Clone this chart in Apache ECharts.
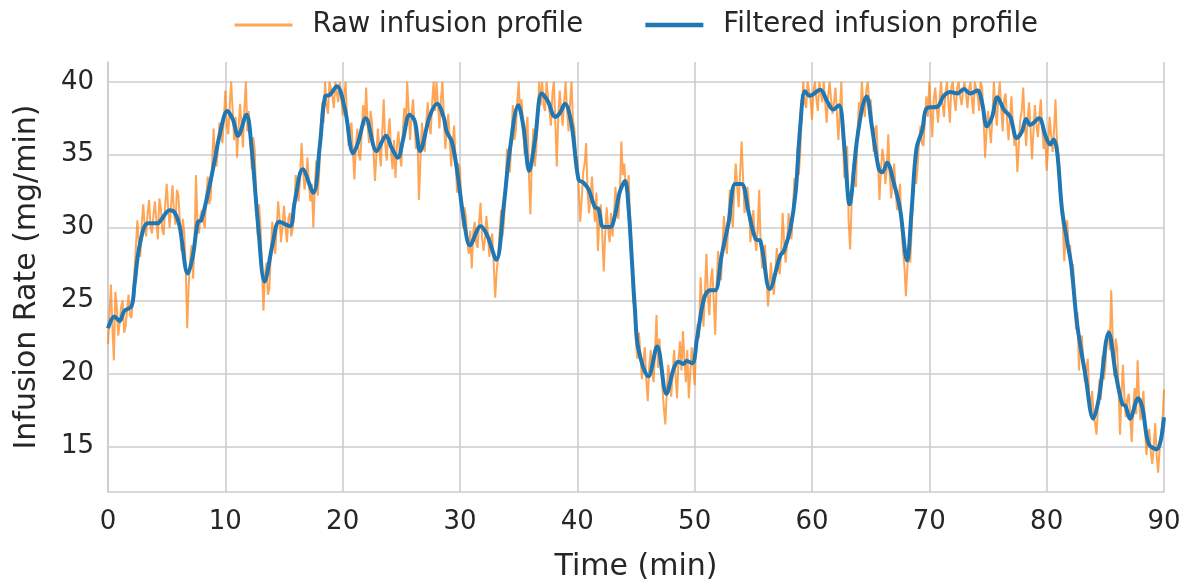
<!DOCTYPE html>
<html>
<head>
<meta charset="utf-8">
<script src="https://cdn.jsdelivr.net/npm/echarts@6/dist/echarts.min.js"></script>
<style>
  html, body { margin: 0; padding: 0; background: #ffffff; }
  #chart { width: 1190px; height: 587px; }
</style>
</head>
<body>
<div id="chart"></div>
<script>
// Raw infusion rate, one sample every RAW_STEP minutes (mg/min, pump ceiling 40)
const RAW_STEP = 0.125;
const rawRate = [
  22.0, 24.0, 26.1, 23.2, 20.9, 25.6, 24.6, 22.6,
  23.5, 24.6, 25.0, 22.8, 23.2, 24.4, 25.4, 24.0,
  23.8, 25.2, 27.0, 28.6, 30.5, 29.0, 28.0, 30.2,
  31.6, 30.2, 29.4, 31.0, 31.9, 30.0, 29.6, 30.9,
  31.8, 30.4, 29.2, 32.0, 31.4, 29.8, 29.5, 31.6,
  33.0, 31.4, 30.0, 31.6, 32.9, 31.0, 30.2, 32.6,
  32.2, 30.4, 28.4, 30.6, 29.6, 27.2, 23.1, 26.0,
  27.8, 28.8, 26.5, 29.0, 33.6, 30.2, 29.6, 30.8,
  31.2, 30.4, 30.0, 32.2, 33.5, 31.6, 32.0, 34.4,
  36.8, 34.6, 34.2, 35.6, 37.2, 36.4, 35.8, 37.4,
  39.4, 37.0, 36.4, 38.4, 40.0, 38.0, 36.0, 37.6,
  34.8, 36.8, 38.5, 37.2, 35.5, 38.2, 40.0, 36.6,
  38.0, 36.0, 34.0, 36.2, 35.4, 32.0, 29.5, 31.6,
  30.0, 27.0, 24.3, 26.8, 27.6, 25.4, 25.8, 28.2,
  30.4, 29.0, 28.2, 30.0, 31.8, 30.6, 29.0, 30.2,
  31.5, 30.0, 29.0, 30.6, 31.0, 29.4, 30.0, 31.4,
  33.6, 32.8, 31.8, 33.6, 35.8, 34.0, 32.6, 33.4,
  34.8, 33.0, 31.8, 33.0, 30.0, 32.8, 34.6, 32.2,
  33.8, 36.4, 38.6, 37.2, 40.0, 38.4, 37.8, 40.0,
  40.0, 39.0, 38.2, 40.0, 40.0, 38.6, 40.0, 39.0,
  37.7, 38.8, 40.0, 37.4, 35.6, 36.8, 37.2, 35.2,
  33.3, 35.6, 36.8, 35.0, 34.6, 36.6, 38.4, 37.0,
  39.6, 37.0, 35.8, 38.0, 37.2, 35.4, 33.2, 35.0,
  36.8, 35.4, 34.2, 36.6, 38.8, 35.8, 34.6, 36.4,
  37.5, 35.2, 34.0, 36.0, 33.4, 35.6, 36.6, 35.0,
  34.2, 36.6, 38.2, 36.8, 40.0, 38.0, 36.0, 37.8,
  38.8, 37.0, 35.4, 36.4, 31.9, 34.6, 37.2, 36.2,
  35.2, 37.2, 38.6, 37.0, 36.4, 38.6, 40.0, 38.0,
  40.0, 38.4, 36.8, 38.8, 40.0, 37.6, 35.4, 36.6,
  37.8, 36.0, 34.2, 35.8, 37.0, 34.6, 32.4, 34.4,
  34.0, 31.6, 30.0, 31.4, 30.8, 29.0, 28.2, 29.8,
  27.2, 29.6, 30.4, 29.0, 28.6, 30.4, 31.7, 29.4,
  28.4, 29.2, 30.8, 29.6, 28.0, 29.2, 29.6, 27.4,
  25.2, 27.0, 28.0, 29.6, 31.2, 29.4, 30.4, 32.6,
  35.4, 34.0, 33.8, 35.8, 38.4, 36.0, 36.6, 38.6,
  40.0, 37.8, 38.8, 37.0, 35.0, 36.6, 37.6, 33.6,
  30.9, 34.8, 36.8, 34.2, 35.4, 37.6, 40.0, 38.4,
  40.0, 38.4, 38.0, 40.0, 40.0, 38.0, 37.0, 39.2,
  40.0, 37.2, 34.2, 37.6, 39.4, 38.0, 37.0, 38.6,
  40.0, 38.0, 36.6, 38.4, 40.0, 37.4, 36.8, 35.0,
  34.8, 32.6, 30.4, 32.0, 33.8, 34.4, 35.8, 32.4,
  31.0, 32.2, 33.5, 31.6, 30.4, 32.4, 28.4, 30.6,
  31.6, 29.6, 27.0, 29.6, 31.4, 30.0, 29.0, 31.0,
  29.4, 31.0, 32.8, 31.2, 30.6, 32.4, 35.9, 33.6,
  34.4, 32.8, 32.2, 33.6, 30.6, 28.0, 25.0, 24.6,
  22.0, 21.0, 22.8, 21.4, 19.6, 20.8, 21.8, 19.6,
  18.1, 20.4, 21.6, 20.0, 19.4, 21.6, 24.0, 20.4,
  22.4, 20.6, 19.0, 17.6, 16.5, 18.8, 20.6, 19.6,
  18.4, 20.0, 21.6, 19.8, 18.3, 21.0, 22.2, 20.2,
  22.9, 21.0, 19.4, 21.6, 18.3, 20.0, 21.8, 20.6,
  19.2, 22.0, 23.4, 22.4, 26.6, 25.0, 23.2, 25.6,
  28.2, 25.4, 24.0, 26.4, 27.2, 25.0, 22.65, 26.2,
  28.4, 27.0, 26.4, 28.8, 30.8, 29.0, 28.2, 30.6,
  32.6, 31.0, 30.0, 32.6, 34.4, 32.8, 31.4, 33.8,
  35.9, 33.4, 31.0, 32.2, 32.8, 31.6, 29.0, 30.2,
  31.2, 29.4, 28.4, 30.0, 32.6, 28.8, 27.2, 28.4,
  28.8, 26.6, 24.6, 26.0, 27.6, 26.2, 25.4, 27.0,
  28.6, 27.4, 26.8, 28.4, 31.0, 29.0, 27.6, 28.8,
  31.0, 30.0, 29.2, 31.2, 33.4, 32.4, 35.5, 33.6,
  35.2, 38.0, 40.0, 38.6, 38.2, 40.0, 40.0, 38.8,
  37.4, 39.4, 40.0, 38.8, 38.0, 40.0, 40.0, 38.6,
  40.0, 38.6, 37.2, 39.0, 40.0, 38.8, 37.8, 38.6,
  39.6, 37.8, 36.0, 38.0, 40.0, 36.4, 33.4, 34.0,
  35.6, 30.4, 28.5, 31.6, 34.4, 33.0, 32.8, 36.4,
  38.6, 37.8, 40.0, 38.4, 37.6, 39.4, 40.0, 38.6,
  38.8, 37.2, 35.2, 36.8, 37.0, 34.6, 31.9, 34.0,
  35.4, 34.6, 33.0, 34.0, 36.4, 33.6, 32.0, 33.2,
  34.4, 32.6, 31.2, 32.0, 33.0, 30.2, 28.4, 27.4,
  25.3, 27.2, 28.6, 27.6, 30.0, 32.4, 34.6, 33.0,
  34.2, 36.0, 37.0, 35.8, 35.6, 37.4, 39.0, 37.6,
  40.0, 38.0, 36.2, 38.8, 39.6, 38.2, 37.2, 38.8,
  40.0, 38.4, 37.6, 39.2, 40.0, 38.6, 37.2, 39.6,
  40.0, 38.8, 38.0, 39.6, 40.0, 39.0, 38.4, 39.4,
  40.0, 39.2, 38.2, 39.4, 40.0, 38.8, 37.8, 40.0,
  40.0, 39.0, 38.0, 40.0, 39.6, 37.6, 34.8, 36.6,
  38.0, 36.8, 35.8, 37.6, 40.0, 38.2, 37.0, 38.8,
  40.0, 38.2, 36.6, 38.8, 39.2, 37.4, 36.0, 37.6,
  39.0, 37.0, 35.6, 36.4, 33.8, 35.6, 37.4, 38.0,
  39.6, 37.2, 35.6, 37.4, 38.6, 36.8, 34.7, 36.6,
  38.4, 37.0, 36.2, 37.6, 38.8, 36.8, 35.4, 36.4,
  33.9, 35.6, 37.6, 36.4, 35.2, 36.6, 38.8, 36.0,
  35.0, 33.6, 31.2, 30.2, 27.7, 29.6, 30.5, 28.6,
  28.8, 26.6, 27.5, 25.4, 23.0, 24.2, 20.2, 22.2,
  22.6, 20.8, 19.4, 20.2, 21.0, 18.6, 17.4, 18.8,
  17.2, 16.6, 15.8, 17.8, 19.6, 18.2, 21.2, 19.6,
  20.4, 22.4, 23.0, 21.6, 25.7, 22.6, 19.8, 22.4,
  21.8, 19.2, 15.8, 18.6, 20.6, 18.4, 17.0, 18.2,
  18.6, 17.0, 15.3, 17.6, 19.0, 17.2, 20.9, 18.4,
  16.8, 17.6, 18.8, 16.4, 14.4, 15.4, 16.2, 14.6,
  13.8, 15.0, 16.6, 14.4, 13.2, 14.8, 15.6, 16.8,
  18.9
];

// Filtered profile: time (min) and rate (mg/min)
const filteredTime = [
  0.0, 0.55, 0.98, 1.4, 2.0, 2.26, 2.7, 3.4, 4.25, 4.5, 5.25, 5.67, 6.1, 6.8,
  7.24, 7.66, 7.95, 8.66, 9.09, 9.5, 10.17, 10.65, 11.08, 11.8, 12.2, 12.8,
  13.35, 14.06, 14.6, 15.5, 15.9, 16.6, 17.5, 18.05, 18.5, 18.9, 19.5, 20.2,
  20.9, 21.3, 21.97, 22.9, 23.7, 24.16, 24.7, 25.15, 25.7, 26.15, 26.6, 27.4,
  28.05, 28.6, 28.86, 29.3, 29.7, 30.4, 30.85, 31.76, 32.3, 33.1, 33.7, 34.26,
  34.97, 35.4, 35.9, 36.4, 36.96, 37.5, 38.1, 38.5, 38.95, 39.5, 40.1, 40.5,
  40.94, 41.5, 41.8, 42.2, 42.8, 43.2, 43.6, 44.07, 44.35, 44.64, 44.9, 45.2,
  46.06, 46.8, 47.6, 48.2, 48.6, 49.05, 49.3, 49.8, 50.2, 50.8, 51.3, 51.75,
  52.3, 52.9, 53.45, 54.0, 54.6, 55.2, 55.6, 56.4, 57.3, 57.6, 58.15, 58.6,
  59.0, 59.4, 59.8, 60.7, 61.3, 61.8, 62.3, 62.75, 63.2, 63.8, 64.3, 64.65,
  65.1, 65.7, 66.0, 66.4, 66.96, 67.5, 68.1, 68.5, 68.9, 69.4, 69.8, 70.7,
  71.2, 71.8, 72.4, 72.95, 73.5, 74.1, 74.5, 74.9, 75.35, 75.8, 76.35, 76.9,
  77.45, 77.9, 78.25, 78.6, 79.35, 79.9, 80.3, 80.6, 80.9, 81.3, 81.76, 82.1,
  82.6, 83.3, 83.97, 84.45, 85.3, 85.9, 86.45, 86.7, 87.1, 87.8, 88.16, 88.7,
  89.4, 90.0
];
const filteredRate = [
  23.1, 23.9, 23.6, 24.3, 24.6, 26.1, 28.8, 30.3, 30.3, 30.5, 31.2, 31.05, 30.1, 26.85,
  28.1, 30.4, 30.5, 32.9, 34.6, 36.3, 38.0, 37.4, 36.3, 37.75, 35.8, 30.1,
  26.3, 29.0, 30.4, 30.1, 31.7, 34.0, 32.4, 35.6, 39.0, 39.1, 39.7, 38.1,
  35.1, 35.8, 37.5, 35.25, 36.3, 35.5, 34.8, 36.05, 37.75, 37.3, 35.25, 37.6,
  38.5, 37.6, 36.6, 35.9, 34.2, 30.15, 28.8, 30.1, 29.5, 27.8, 31.3, 35.4,
  38.4, 36.95, 33.9, 36.05, 39.2, 38.65, 37.6, 37.85, 38.5, 37.1, 33.3, 33.1,
  32.65, 31.4, 31.3, 30.05, 30.05, 30.8, 32.4, 33.2, 31.5, 27.9, 24.5, 21.7,
  19.8, 21.85, 18.6, 20.3, 20.8, 20.65, 20.85, 20.7, 22.4, 25.15, 25.7, 25.7,
  28.1, 30.4, 33.0, 33.0, 31.05, 29.2, 29.1, 25.8, 28.1, 28.4, 29.9, 32.4,
  36.95, 39.35, 39.05, 39.45, 38.65, 38.1, 38.4, 35.6, 31.6, 35.8, 38.3, 39.0,
  36.95, 34.0, 33.8, 34.45, 33.1, 31.3, 27.75, 31.3, 35.4, 36.7, 38.2, 38.3,
  39.0, 39.3, 39.2, 39.5, 39.2, 39.4, 38.55, 36.95, 37.6, 38.95, 38.1, 37.6,
  36.15, 36.6, 37.45, 37.05, 37.5, 36.3, 35.7, 36.05, 35.15, 31.3, 29.0, 27.4,
  23.35, 19.9, 16.9, 18.3, 22.8, 19.9, 17.9, 17.8, 16.9, 18.3, 17.65, 15.15,
  14.8, 17.0
];

const yTicks = [15, 20, 25, 30, 35, 40];
const xTicks = [0, 10, 20, 30, 40, 50, 60, 70, 80, 90];

const rawData = rawRate.map((v, i) => [i * RAW_STEP, v]);
const filteredData = filteredTime.map((t, i) => [t, filteredRate[i]]);

const GRID = { left: 108, right: 26, top: 62, bottom: 92 };
const plotWidth = 1190 - GRID.left - GRID.right;
const GRID_COLOR = '#cccccc';
const TEXT_COLOR = '#262626';
const FONT = 'DejaVu Sans';
const RAW_COLOR = '#ff7f0e';
const FILTERED_COLOR = '#1f77b4';

const chart = echarts.init(document.getElementById('chart'), null, { renderer: 'canvas' });

chart.setOption({
  animation: false,
  backgroundColor: '#ffffff',
  textStyle: { fontFamily: FONT, color: TEXT_COLOR },
  grid: GRID,
  legend: {
    left: 228,
    top: 6,
    itemWidth: 58,
    itemHeight: 14,
    itemGap: 60,
    // plain line keys: hide the marker that line series add to the key
    itemStyle: { opacity: 0 },
    textStyle: { fontFamily: FONT, fontSize: 27.5, color: TEXT_COLOR, padding: [0, 0, 0, 15] },
    data: [
      { name: 'Raw infusion profile', lineStyle: { color: RAW_COLOR, width: 3, opacity: 0.7 } },
      { name: 'Filtered infusion profile', lineStyle: { color: FILTERED_COLOR, width: 4.5 } }
    ]
  },
  xAxis: {
    type: 'value',
    min: xTicks[0],
    max: xTicks[xTicks.length - 1],
    interval: 10,
    name: 'Time (min)',
    nameLocation: 'middle',
    nameGap: 60,
    nameTextStyle: { fontFamily: FONT, fontSize: 30, color: TEXT_COLOR },
    axisLine: { show: true, lineStyle: { color: GRID_COLOR, width: 1.6 } },
    axisTick: { show: false },
    axisLabel: { fontFamily: FONT, fontSize: 26, color: TEXT_COLOR, margin: 17 },
    splitLine: { show: true, lineStyle: { color: GRID_COLOR, width: 1.6 } }
  },
  yAxis: {
    type: 'value',
    min: 11.87,
    max: 41.36,
    name: 'Infusion Rate (mg/min)',
    nameLocation: 'middle',
    nameGap: 66,
    nameTextStyle: { fontFamily: FONT, fontSize: 30, color: TEXT_COLOR },
    axisLine: { show: true, lineStyle: { color: GRID_COLOR, width: 1.6 } },
    splitLine: { show: false },
    // horizontal grid lines drawn as full-width inside ticks at the labelled values
    axisTick: {
      show: true,
      inside: true,
      length: plotWidth,
      customValues: yTicks,
      lineStyle: { color: GRID_COLOR, width: 1.6 }
    },
    axisLabel: {
      customValues: yTicks,
      fontFamily: FONT, fontSize: 26, color: TEXT_COLOR, margin: 14
    }
  },
  series: [
    {
      name: 'Raw infusion profile',
      type: 'line',
      data: rawData,
      symbol: 'none',
      showSymbol: false,
      z: 2,
      itemStyle: { color: RAW_COLOR },
      lineStyle: { color: RAW_COLOR, width: 2, opacity: 0.7 }
    },
    {
      name: 'Filtered infusion profile',
      type: 'line',
      data: filteredData,
      symbol: 'none',
      showSymbol: false,
      smooth: 0.35,
      z: 3,
      itemStyle: { color: FILTERED_COLOR },
      lineStyle: { color: FILTERED_COLOR, width: 4 }
    }
  ]
});
</script>
</body>
</html>
